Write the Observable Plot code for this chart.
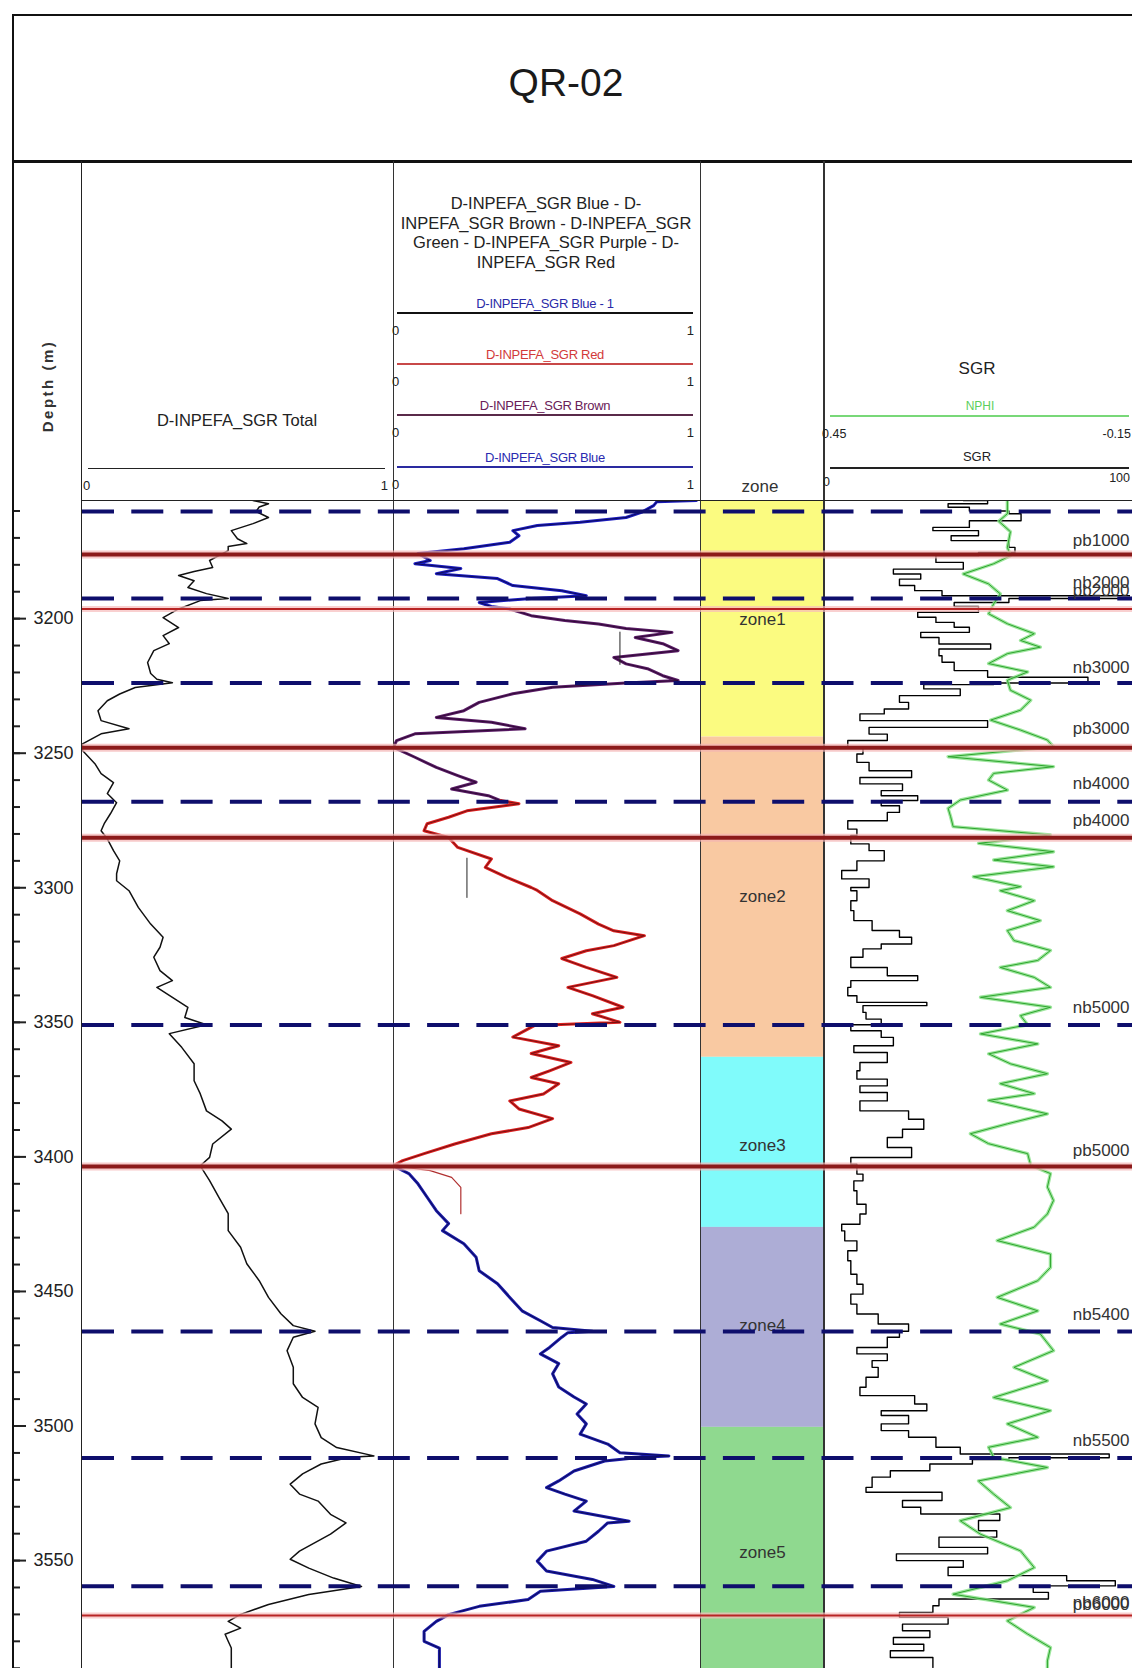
<!DOCTYPE html>
<html><head><meta charset="utf-8">
<script src="https://cdn.jsdelivr.net/npm/d3@7"></script>
<script src="https://cdn.jsdelivr.net/npm/@observablehq/plot@0.6"></script>
<style>
body{margin:0;background:#fff;}
#page{position:relative;width:1132px;height:1668px;overflow:hidden;background:#fff;font-family:"Liberation Sans",Arial,sans-serif;color:#222;}
.t{position:absolute;white-space:nowrap;line-height:1;}
.ln{position:absolute;}
</style></head><body><div id="page"></div>
<script>
// ---------------- DATA ----------------
const wellName = "QR-02";
const depthDomain = [3156.1, 3590.1];
const depthMajorTicks = [3200, 3250, 3300, 3350, 3400, 3450, 3500, 3550];
const depthMinorTicks = d3.range(3160, 3591, 10);

// D-INPEFA_SGR Total  [depth m, value 0..1]
const inpefaTotal = [[3156.1,0.55],[3157.3,0.60],[3158.5,0.57],[3160.2,0.56],[3162.4,0.60],[3164.7,0.55],[3167.3,0.48],[3170.3,0.50],[3172.1,0.53],[3173.2,0.47],[3174.7,0.47],[3178.4,0.41],[3181,0.42],[3182.5,0.36],[3184,0.31],[3185.9,0.36],[3188.4,0.34],[3190.7,0.40],[3192.5,0.47],[3193.3,0.38],[3196.4,0.31],[3199.6,0.26],[3203.3,0.31],[3206.3,0.26],[3209.3,0.28],[3211.9,0.23],[3216.3,0.21],[3220.4,0.22],[3222.5,0.24],[3223.8,0.29],[3225.6,0.17],[3228,0.12],[3230.5,0.08],[3234.2,0.05],[3237.9,0.06],[3240.9,0.15],[3242.8,0.06],[3246.5,0.0],[3249,0.0],[3253.9,0.04],[3257.6,0.06],[3260.9,0.10],[3265,0.08],[3268.4,0.11],[3272.5,0.09],[3276.2,0.07],[3278.8,0.06],[3281.8,0.08],[3286.2,0.10],[3290,0.12],[3294.8,0.11],[3297.4,0.11],[3301.1,0.15],[3307.3,0.18],[3313.5,0.22],[3318.4,0.26],[3322.1,0.25],[3325.8,0.23],[3330.8,0.25],[3334.5,0.29],[3337,0.24],[3340.7,0.29],[3344.4,0.34],[3348.2,0.33],[3350.9,0.40],[3354.2,0.28],[3359.3,0.32],[3365.4,0.36],[3371.7,0.36],[3376.6,0.38],[3382.9,0.40],[3386.6,0.45],[3389.7,0.48],[3395.2,0.42],[3400.2,0.41],[3403.3,0.38],[3408.8,0.41],[3415,0.44],[3421.1,0.47],[3427.4,0.47],[3433.6,0.51],[3439.7,0.53],[3446,0.57],[3452.2,0.60],[3458.3,0.64],[3462.7,0.68],[3464.8,0.75],[3467,0.68],[3472,0.66],[3478.2,0.68],[3484.3,0.68],[3489.4,0.71],[3493.1,0.76],[3499.2,0.75],[3504.3,0.77],[3508,0.82],[3511.1,0.94],[3511.6,0.86],[3514.1,0.77],[3517.8,0.71],[3521.6,0.67],[3525.3,0.70],[3527.9,0.76],[3532.8,0.80],[3536,0.85],[3540.2,0.80],[3546.5,0.70],[3549.5,0.67],[3552.8,0.73],[3556.5,0.81],[3559.6,0.90],[3562.6,0.73],[3566.3,0.60],[3570,0.51],[3572.6,0.47],[3575.1,0.51],[3577.4,0.46],[3580,0.47],[3582.5,0.48],[3590.1,0.48]];

// D-INPEFA_SGR Blue (upper interval)
const inpefaBlueUpper = [[3156.1,0.99],[3156.6,0.86],[3158,0.85],[3160.5,0.81],[3162.4,0.76],[3164.2,0.61],[3165.4,0.47],[3167.3,0.39],[3169.2,0.41],[3171.6,0.38],[3174,0.23],[3175.8,0.08],[3178.4,0.12],[3179.6,0.07],[3181.4,0.22],[3183.3,0.14],[3185.1,0.34],[3187.7,0.39],[3189.6,0.55],[3191.5,0.63],[3192.5,0.45],[3194,0.28],[3195.5,0.32],[3196.4,0.38]];
// D-INPEFA_SGR Brown / Purple
const inpefaBrown = [[3196.4,0.38],[3198.9,0.45],[3200.7,0.56],[3202,0.67],[3203.7,0.76],[3205.1,0.91],[3207,0.79],[3209.3,0.88],[3211.9,0.93],[3214.4,0.72],[3216.8,0.76],[3218.6,0.83],[3221.2,0.88],[3223,0.93],[3223.9,0.76],[3225.5,0.52],[3227.9,0.39],[3231.1,0.28],[3234.2,0.23],[3236.7,0.14],[3238.5,0.32],[3240.9,0.43],[3242.8,0.07],[3245.3,0.01],[3247.8,0.0],[3251.5,0.07],[3255.3,0.14],[3258.3,0.21],[3260.8,0.27],[3263.3,0.19],[3265.8,0.31],[3267.6,0.35]];
// D-INPEFA_SGR Red
const inpefaRed = [[3267.6,0.35],[3268.8,0.41],[3271.4,0.24],[3273.8,0.18],[3276.2,0.11],[3278.8,0.10],[3281.3,0.18],[3285,0.21],[3289.3,0.32],[3292.4,0.30],[3296.1,0.37],[3299.9,0.45],[3301,0.47],[3304.8,0.52],[3309.7,0.61],[3313.5,0.67],[3316,0.72],[3317.8,0.82],[3321.5,0.72],[3323.4,0.63],[3326.3,0.55],[3329.6,0.63],[3333.3,0.73],[3337,0.57],[3340.1,0.65],[3344.4,0.75],[3346.8,0.65],[3350,0.74],[3351.2,0.46],[3355.5,0.39],[3358.7,0.54],[3361.6,0.45],[3364.9,0.58],[3368,0.51],[3370.5,0.45],[3372.8,0.54],[3376.6,0.49],[3379.2,0.38],[3382.2,0.41],[3385.8,0.52],[3389.1,0.44],[3391.4,0.32],[3395.2,0.20],[3398.8,0.10],[3401.4,0.03],[3403.3,0.0]];
const inpefaRedTail = [[3403.3,0.0],[3405.1,0.12],[3407.6,0.19],[3411.3,0.22],[3421.1,0.22]];
// D-INPEFA_SGR Blue (lower interval)
const inpefaBlueLower = [[3403.3,0.0],[3406.2,0.05],[3410,0.08],[3415,0.11],[3420,0.14],[3424.8,0.18],[3427.4,0.16],[3432.3,0.23],[3437.3,0.27],[3442.3,0.28],[3447.1,0.34],[3452.2,0.38],[3457.2,0.42],[3460.9,0.48],[3463.4,0.52],[3464.8,0.65],[3465.3,0.57],[3467,0.55],[3470.8,0.51],[3473.2,0.48],[3476.8,0.54],[3480.6,0.52],[3485.5,0.54],[3489.2,0.59],[3491.8,0.63],[3495.5,0.60],[3499.2,0.63],[3503,0.61],[3506.7,0.70],[3509.9,0.74],[3511.1,0.90],[3511.6,0.81],[3513,0.69],[3516.7,0.59],[3520.4,0.54],[3522.9,0.50],[3525.3,0.56],[3527.9,0.63],[3531.6,0.59],[3535.4,0.77],[3536,0.70],[3539.1,0.67],[3542.8,0.63],[3546.5,0.50],[3550.2,0.47],[3553.9,0.50],[3557,0.65],[3559.6,0.72],[3561.4,0.48],[3564.5,0.44],[3567,0.28],[3570.1,0.18],[3572.6,0.14],[3576.3,0.10],[3580,0.10],[3582.5,0.15],[3590.1,0.15]];
// D-INPEFA_SGR Blue - 1 (short pieces)
const inpefaBlue1a = [[3205,0.74],[3217,0.74]];
const inpefaBlue1b = [[3289,0.24],[3303.6,0.24]];

// SGR [depth, API 0..100]
const sgr = [[3156.1,45],[3157.3,53],[3158.6,40],[3160,47],[3161,60],[3163.6,64],[3166.1,47],[3167.3,35],[3169.2,50],[3171,41],[3173.5,60],[3175.4,62],[3176.6,50],[3179.1,36],[3181.6,45],[3183.4,22],[3185.3,31],[3187.7,24],[3189.6,29],[3191.5,38],[3192.5,100],[3193,60],[3194,60],[3195.5,42],[3197.6,50],[3199.5,30],[3201.4,36],[3203.2,42],[3205.1,47],[3207,31],[3209.4,37],[3211.3,54],[3213.8,37],[3216.2,38],[3219.3,42],[3221.8,53],[3223.9,86],[3224.5,55],[3226.1,32],[3228.6,44],[3231.1,24],[3233.6,27],[3235.4,19],[3237.9,11],[3240.4,53],[3242.9,14],[3245.3,20],[3247.8,7],[3250.3,12],[3253.4,10],[3256.5,14],[3259,28],[3261.4,11],[3263.9,25],[3265.8,18],[3267.6,30],[3269.5,18],[3272,24],[3275.1,20],[3278.2,7],[3280.6,10],[3283.7,8],[3286.2,14],[3290,19],[3293.6,10],[3296.7,5],[3299.9,14],[3301.1,8],[3304.8,10],[3308.5,8],[3312.2,9],[3315.9,15],[3318.4,24],[3320.9,28],[3322.7,18],[3325.8,12],[3329.6,8],[3332.7,20],[3334.5,30],[3337,8],[3340.1,7],[3342.6,10],[3343.8,33],[3346.3,12],[3348.8,13],[3350.9,18],[3353.1,8],[3355.6,18],[3358.7,22],[3361.2,9],[3364.9,20],[3368,11],[3371.1,10],[3373.6,20],[3376.1,11],[3379.2,20],[3382.9,11],[3386,27],[3389.7,32],[3392.8,25],[3396.5,20],[3400.2,28],[3402.7,8],[3406.4,10],[3408.9,12],[3412.6,9],[3417.6,10],[3421.2,13],[3425,11],[3427.5,5],[3431.2,6],[3434.9,10],[3438.6,7],[3443.6,8],[3447.3,10],[3451,12],[3454.7,8],[3458.4,10],[3462.1,17],[3464.8,27],[3467,24],[3470.8,20],[3473.2,10],[3475.7,20],[3478.2,15],[3481.9,17],[3485.6,13],[3488.7,11],[3491.8,29],[3494.3,33],[3496.1,18],[3499.2,27],[3501.7,18],[3504.2,27],[3507.9,36],[3510.4,44],[3511.8,93],[3512.5,60],[3514.1,48],[3516.6,34],[3519,21],[3522.8,15],[3524.6,13],[3527.7,38],[3530.2,25],[3532.7,31],[3535.1,57],[3538.9,50],[3541.3,56],[3545.1,37],[3547.5,53],[3550,23],[3552.5,45],[3555.6,40],[3557.5,79],[3559.4,95],[3561.8,68],[3564.3,73],[3566.8,37],[3569.3,35],[3571.1,24],[3573.6,40],[3576.1,25],[3578.6,34],[3581.1,22],[3583.5,32],[3586,21],[3589.7,35]];

// NPHI [depth, v/v]
const nphi = [[3156.1,0.093],[3161,0.093],[3163.8,0.11],[3167.7,0.087],[3173.5,0.093],[3176.6,0.087],[3179.6,0.12],[3183.4,0.18],[3187.1,0.13],[3190.8,0.107],[3194.5,0.12],[3198.2,0.13],[3201.9,0.093],[3205.6,0.04],[3208.1,0.067],[3210.6,0.028],[3213,0.093],[3216.7,0.13],[3219.8,0.053],[3222.9,0.093],[3226.6,0.087],[3230.3,0.047],[3234,0.067],[3237.7,0.126],[3241.4,0.067],[3245.1,0.014],[3247.6,0.002],[3251.3,0.21],[3255,0.002],[3257.5,0.12],[3260,0.13],[3263.7,0.093],[3267.4,0.186],[3270.5,0.21],[3273.6,0.205],[3277.3,0.2],[3280.4,0.008],[3283.5,0.15],[3286.6,0.002],[3289.7,0.12],[3292.2,0.002],[3295.9,0.16],[3299.6,0.067],[3301.1,0.107],[3304.8,0.04],[3308.5,0.093],[3312.2,0.028],[3315.9,0.093],[3319.6,0.08],[3323.3,0.008],[3327,0.033],[3329.6,0.107],[3333.3,0.04],[3337,0.008],[3340.7,0.146],[3344.4,0.008],[3347.5,0.067],[3350.9,0.053],[3354.3,0.146],[3358,0.033],[3361.7,0.13],[3365.4,0.087],[3369.1,0.014],[3372.8,0.107],[3376.5,0.04],[3379,0.13],[3384,0.014],[3387.7,0.093],[3391.4,0.166],[3395.1,0.13],[3398.8,0.053],[3403.1,0.047],[3406.2,0.008],[3411.2,0.014],[3416.2,0.002],[3421.2,0.014],[3426.1,0.04],[3431.1,0.113],[3436.1,0.008],[3441.1,0.008],[3446,0.033],[3452.2,0.113],[3457.2,0.033],[3462.1,0.107],[3465.8,0.028],[3472,0.002],[3478.2,0.08],[3483.2,0.014],[3489.4,0.12],[3494.3,0.008],[3499.2,0.093],[3504.2,0.033],[3507.9,0.13],[3511.7,0.12],[3515.4,0.014],[3520.4,0.15],[3525.3,0.12],[3530.3,0.087],[3535.2,0.186],[3540.2,0.146],[3546.4,0.067],[3552.6,0.04],[3557.5,0.093],[3562.5,0.2],[3567.4,0.04],[3572.4,0.093],[3577.3,0.053],[3582.3,0.008],[3587.3,0.014],[3590.1,0.014]];

// zones
const zoneNames = ["zone1","zone2","zone3","zone4","zone5"];
const zoneTops = [3156.1, 3244, 3363, 3426.2, 3500.5];
const zoneBases = [3244, 3363, 3426.2, 3500.5, 3590.1];
const zoneLabelDepths = [3200.5, 3303.3, 3395.8, 3462.7, 3547];

// well tops: negative (dashed) and positive (solid) bounding surfaces
const nbTops = [["nb1000",3160.2],["nb2000",3192.5],["nb3000",3223.9],["nb4000",3268.0],["nb5000",3351.0],["nb5400",3464.9],["nb5500",3511.9],["nb6000",3559.5]];
const pbTops = [["pb1000",3176.2],["pb2000",3196.4],["pb3000",3248.0],["pb4000",3281.4],["pb5000",3403.6],["pb6000",3570.4]];
const topLabels = [["pb1000",3170.8],["nb2000",3186.6],["pb2000",3189.6],["nb3000",3218],["pb3000",3241],["nb4000",3261.2],["pb4000",3275],["nb5000",3344.4],["pb5000",3397.5],["nb5400",3458.4],["nb5500",3505.4],["nb6000",3565.6],["pb6000",3566.4]];

// ---------------- LAYOUT / STYLE ----------------
const page = document.getElementById("page");
const FONT = '"Liberation Sans", Arial, sans-serif';
const DATA_TOP = 500, DATA_H = 1168;
const thinPb = new Set(["pb2000","pb6000"]);
const zoneColors = ["#fbfb80","#f9c9a2","#80fbfb","#adadd6","#8fd98f"];

function txt(s, x, y, o = {}) {
  const d = document.createElement("div");
  d.className = "t";
  d.textContent = s;
  d.style.left = x + "px";
  d.style.top = y + "px";
  d.style.fontSize = (o.size || 13) + "px";
  if (o.color) d.style.color = o.color;
  if (o.weight) d.style.fontWeight = o.weight;
  if (o.ls) d.style.letterSpacing = o.ls + "px";
  const a = o.anchor || "middle";
  const tx = a === "middle" ? "-50%" : a === "end" ? "-100%" : "0";
  d.style.transform = `translate(${tx},-50%)` + (o.rotate ? ` rotate(${o.rotate}deg)` : "");
  page.appendChild(d);
}
function hl(x1, x2, y, w, c) {
  const d = document.createElement("div");
  d.className = "ln";
  Object.assign(d.style, {left: x1 + "px", top: (y - w / 2) + "px", width: (x2 - x1) + "px", height: w + "px", background: c});
  page.appendChild(d);
}
function vl(x, y1, y2, w, c) {
  const d = document.createElement("div");
  d.className = "ln";
  Object.assign(d.style, {left: (x - w / 2) + "px", top: y1 + "px", width: w + "px", height: (y2 - y1) + "px", background: c});
  page.appendChild(d);
}
function mount(el, left, top) {
  el.style.position = "absolute";
  el.style.left = left + "px";
  el.style.top = top + "px";
  page.appendChild(el);
}
function track(width, marks, opts = {}) {
  return Plot.plot({
    width, height: DATA_H,
    marginTop: 0, marginBottom: 0,
    marginLeft: opts.ml ?? 0, marginRight: opts.mr ?? 0,
    x: Object.assign({axis: null}, opts.x || {}),
    y: {domain: depthDomain, reverse: true, axis: null},
    style: {background: "transparent", fontFamily: FONT, overflow: "visible"},
    marks
  });
}
const dv = d => d[1], dd = d => d[0];

// zone column
mount(track(124, [
  Plot.rect(zoneNames.map((z, i) => ({z, i, top: zoneTops[i], base: zoneBases[i]})),
    {x1: () => 0, x2: () => 1, y1: "top", y2: "base", fill: d => zoneColors[d.i]}),
  Plot.text(zoneNames.map((z, i) => ({z, y: zoneLabelDepths[i]})),
    {y: "y", text: "z", fontSize: 17, fill: "#333"})
], {x: {domain: [0, 1]}}), 700, DATA_TOP);

// track 1: INPEFA total
mount(track(312, [
  Plot.line(inpefaTotal, {x: dv, y: dd, stroke: "#111", strokeWidth: 1.5, clip: true})
], {x: {domain: [0, 1]}, ml: 1, mr: 1}), 81, DATA_TOP);

// track 2: coloured INPEFA pieces
const seg = (data, halo, core) => [
  Plot.line(data, {x: dv, y: dd, stroke: halo, strokeWidth: 3, clip: true}),
  Plot.line(data, {x: dv, y: dd, stroke: core, strokeWidth: 0.9, clip: true})
];
mount(track(307, [
  ...seg(inpefaBlueUpper, "#1c1cc0", "#0a0a50"),
  ...seg(inpefaBrown, "#5a1a66", "#2a0a30"),
  ...seg(inpefaRed, "#dd2020", "#6a1010"),
  Plot.line(inpefaRedTail, {x: dv, y: dd, stroke: "#b03030", strokeWidth: 1.2, clip: true}),
  ...seg(inpefaBlueLower, "#1a1aa8", "#0a0a50"),
  Plot.line(inpefaBlue1a, {x: dv, y: dd, stroke: "#222", strokeWidth: 1}),
  Plot.line(inpefaBlue1b, {x: dv, y: dd, stroke: "#222", strokeWidth: 1})
], {x: {domain: [0, 1]}, ml: 0, mr: 1}), 393, DATA_TOP);

// track 4: SGR + NPHI (two overlaid scales)
mount(track(308, [
  Plot.line(sgr, {x: dv, y: dd, stroke: "#000", strokeWidth: 1.4, curve: "step-after", clip: true})
], {x: {domain: [0, 100]}, ml: 2, mr: 2}), 824, DATA_TOP);
mount(track(308, [
  Plot.line(nphi, {x: dv, y: dd, stroke: "#8de28d", strokeWidth: 3.4, strokeOpacity: 0.85, clip: true}),
  Plot.line(nphi, {x: dv, y: dd, stroke: "#2ea52e", strokeWidth: 1, clip: true})
], {x: {domain: [0.45, -0.15]}, ml: 2, mr: 2}), 824, DATA_TOP);

// depth axis
mount(track(81, [
  Plot.axisY({anchor: "left", ticks: depthMinorTicks, tickSize: -7, tickFormat: () => "", strokeWidth: 2, label: null}),
  Plot.axisY({anchor: "left", ticks: depthMajorTicks, tickSize: -13, tickPadding: -7, textAnchor: "start",
              tickFormat: d => String(d), fontSize: 18, strokeWidth: 2, label: null, fill: "#222"})
], {ml: 13}), 0, DATA_TOP);

// ---------------- FRAME & HEADERS ----------------
hl(12, 1132, 15, 2, "#111");
hl(12, 1132, 161, 3, "#111");
vl(13, 15, 1668, 2, "#111");
vl(81.5, 161, 1668, 1.5, "#222");
vl(393, 161, 1668, 1, "#333");
vl(700, 161, 1668, 1, "#333");
vl(824, 161, 1668, 1.5, "#333");
hl(81, 1132, 500, 1, "#222");

txt(wellName, 566, 82, {size: 39, color: "#1a1a1a"});
txt("Depth (m)", 47, 386, {size: 15, weight: "bold", rotate: -90, ls: 2.5, color: "#333"});

// track 1 header
txt("D-INPEFA_SGR Total", 237, 420, {size: 16.5});
hl(88, 385, 468, 1, "#222");
txt("0", 83, 485, {size: 13, anchor: "start"});
txt("1", 388, 485, {size: 13, anchor: "end"});

// track 2 header
const t2lines = ["D-INPEFA_SGR Blue - D-", "INPEFA_SGR Brown - D-INPEFA_SGR", "Green - D-INPEFA_SGR Purple - D-", "INPEFA_SGR Red"];
t2lines.forEach((s, i) => txt(s, 546, 203 + i * 19.7, {size: 16.5}));
const legend = [
  {name: "D-INPEFA_SGR Blue - 1", tc: "#2a2aa8", lc: "#111", lw: 2.5, y: 303},
  {name: "D-INPEFA_SGR Red", tc: "#d23a3a", lc: "#c84848", lw: 1.3, y: 354},
  {name: "D-INPEFA_SGR Brown", tc: "#6a2058", lc: "#5a2a4a", lw: 1.3, y: 405},
  {name: "D-INPEFA_SGR Blue", tc: "#2a2ab0", lc: "#2a2aa0", lw: 1.3, y: 457}
];
legend.forEach(l => {
  txt(l.name, 545, l.y, {size: 13, color: l.tc, ls: -0.3});
  hl(397, 693, l.y + 10, l.lw, l.lc);
  txt("0", 392, l.y + 27, {size: 13, anchor: "start"});
  txt("1", 694, l.y + 27, {size: 13, anchor: "end"});
});

// zone header
txt("zone", 760, 486, {size: 17, color: "#333"});

// track 4 header
txt("SGR", 977, 368, {size: 17});
txt("NPHI", 980, 406, {size: 12, color: "#5ccf5c"});
hl(830, 1129, 416, 2.5, "#78d878");
txt("0.45", 822, 434, {size: 12.5, anchor: "start"});
txt("-0.15", 1131, 434, {size: 12.5, anchor: "end"});
txt("SGR", 977, 456, {size: 13});
hl(830, 1129, 468, 1.2, "#222");
txt("0", 823, 482, {size: 12.5, anchor: "start"});
txt("100", 1130, 478, {size: 12.5, anchor: "end"});

// ---------------- WELL TOPS OVERLAY ----------------
mount(Plot.plot({
  width: 1050, height: DATA_H, margin: 0,
  y: {domain: depthDomain, reverse: true, axis: null},
  style: {background: "transparent", fontFamily: FONT, overflow: "visible"},
  marks: [
    Plot.ruleY(pbTops.filter(d => !thinPb.has(d[0])), {y: dv, stroke: "#f4b4b4", strokeWidth: 8, strokeOpacity: 0.7}),
    Plot.ruleY(pbTops.filter(d => thinPb.has(d[0])), {y: dv, stroke: "#f6bcbc", strokeWidth: 6, strokeOpacity: 0.7}),
    Plot.ruleY(pbTops.filter(d => !thinPb.has(d[0])), {y: dv, stroke: "#8c1a1a", strokeWidth: 4}),
    Plot.ruleY(pbTops.filter(d => thinPb.has(d[0])), {y: dv, stroke: "#b82424", strokeWidth: 2}),
    Plot.ruleY(nbTops, {y: dv, stroke: "#0e0e6c", strokeWidth: 4, strokeDasharray: "32,17.3"}),
    Plot.text(topLabels, {y: dv, text: dd, frameAnchor: "right", textAnchor: "end", dx: -3, fontSize: 17, fill: "#333"})
  ]
}), 82, DATA_TOP);
</script></body></html>
